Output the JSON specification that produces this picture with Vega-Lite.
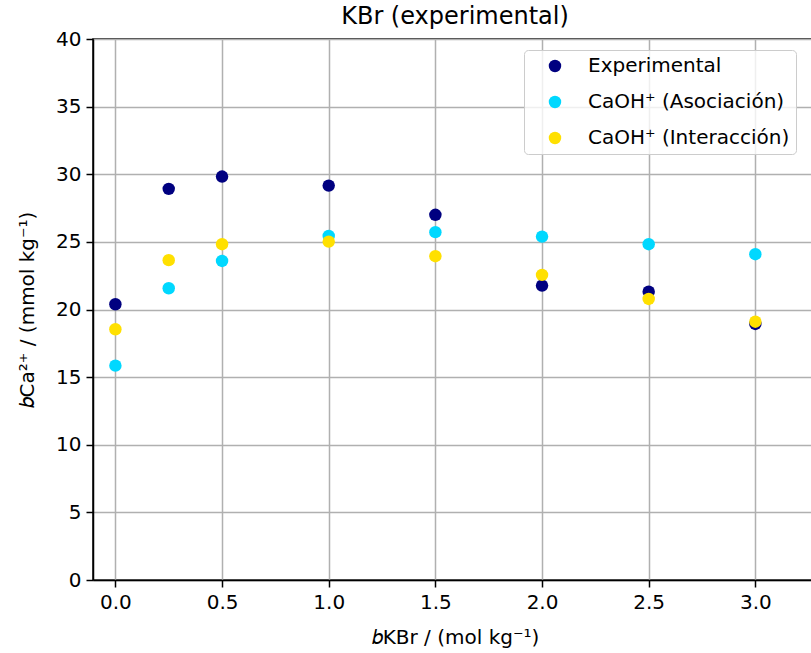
{
  "$schema": "https://vega.github.io/schema/vega-lite/v6.json",
  "width": 724,
  "height": 541,
  "autosize": {"type": "none"},
  "padding": {"left": 93, "top": 39, "right": 0, "bottom": 73},
  "title": {"text": "KBr (experimental)", "fontSize": 24, "fontWeight": "normal", "font": "DejaVu Sans", "color": "black", "anchor": "middle", "baseline": "alphabetic", "offset": -19},
  "config": {
    "font": "DejaVu Sans",
    "view": {"stroke": "black", "strokeWidth": 1.5},
    "axis": {
      "labelFontSize": 20, "labelColor": "black", "titleFontSize": 20, "titleFontWeight": "normal", "titleColor": "black",
      "domainColor": "black", "domainWidth": 1.5, "tickColor": "black", "tickWidth": 1.5, "tickSize": 7,
      "grid": true, "gridColor": "#b0b0b0", "gridWidth": 1.5, "labelFont": "DejaVu Sans", "titleFont": "DejaVu Sans"
    }
  },
  "data": {"values": [
    {"b": 0.0, "v": 20.39, "serie": "Experimental"},
    {"b": 0.25, "v": 28.92, "serie": "Experimental"},
    {"b": 0.5, "v": 29.83, "serie": "Experimental"},
    {"b": 1.0, "v": 29.16, "serie": "Experimental"},
    {"b": 1.5, "v": 27.0, "serie": "Experimental"},
    {"b": 2.0, "v": 21.77, "serie": "Experimental"},
    {"b": 2.5, "v": 21.32, "serie": "Experimental"},
    {"b": 3.0, "v": 18.93, "serie": "Experimental"},
    {"b": 0.0, "v": 15.85, "serie": "CaOH⁺ (Asociación)"},
    {"b": 0.25, "v": 21.57, "serie": "CaOH⁺ (Asociación)"},
    {"b": 0.5, "v": 23.59, "serie": "CaOH⁺ (Asociación)"},
    {"b": 1.0, "v": 25.44, "serie": "CaOH⁺ (Asociación)"},
    {"b": 1.5, "v": 25.72, "serie": "CaOH⁺ (Asociación)"},
    {"b": 2.0, "v": 25.39, "serie": "CaOH⁺ (Asociación)"},
    {"b": 2.5, "v": 24.83, "serie": "CaOH⁺ (Asociación)"},
    {"b": 3.0, "v": 24.09, "serie": "CaOH⁺ (Asociación)"},
    {"b": 0.0, "v": 18.54, "serie": "CaOH⁺ (Interacción)"},
    {"b": 0.25, "v": 23.65, "serie": "CaOH⁺ (Interacción)"},
    {"b": 0.5, "v": 24.83, "serie": "CaOH⁺ (Interacción)"},
    {"b": 1.0, "v": 25.02, "serie": "CaOH⁺ (Interacción)"},
    {"b": 1.5, "v": 23.94, "serie": "CaOH⁺ (Interacción)"},
    {"b": 2.0, "v": 22.56, "serie": "CaOH⁺ (Interacción)"},
    {"b": 2.5, "v": 20.78, "serie": "CaOH⁺ (Interacción)"},
    {"b": 3.0, "v": 19.1, "serie": "CaOH⁺ (Interacción)"}
  ]},
  "mark": {"type": "point", "filled": true, "size": 155, "opacity": 1, "shape": "circle"},
  "encoding": {
    "x": {
      "field": "b", "type": "quantitative",
      "scale": {"domain": [-0.105, 3.289], "nice": false, "zero": false},
      "axis": {"values": [0, 0.5, 1, 1.5, 2, 2.5, 3], "format": ".1f", "title": "𝑏KBr / (mol kg⁻¹)", "labelPadding": 5, "titlePadding": 15}
    },
    "y": {
      "field": "v", "type": "quantitative",
      "scale": {"domain": [0, 40], "nice": false},
      "axis": {"values": [0, 5, 10, 15, 20, 25, 30, 35, 40], "title": "𝑏Ca²⁺  / (mmol kg⁻¹)", "labelPadding": 5, "titlePadding": 18}
    },
    "color": {
      "field": "serie", "type": "nominal",
      "scale": {"domain": ["Experimental", "CaOH⁺ (Asociación)", "CaOH⁺ (Interacción)"], "range": ["#000080", "#00d8ff", "#ffe000"]},
      "legend": {
        "title": null, "orient": "none", "legendX": 431, "legendY": 11,
        "padding": 6, "symbolOffset": 15, "labelOffset": 23, "rowPadding": 16,
        "labelFontSize": 20, "labelColor": "black", "symbolSize": 155, "symbolType": "circle", "symbolStrokeWidth": 0,
        "strokeColor": "#cccccc", "cornerRadius": 4, "fillColor": "rgba(255,255,255,0.8)", "labelLimit": 400
      }
    }
  }
}
